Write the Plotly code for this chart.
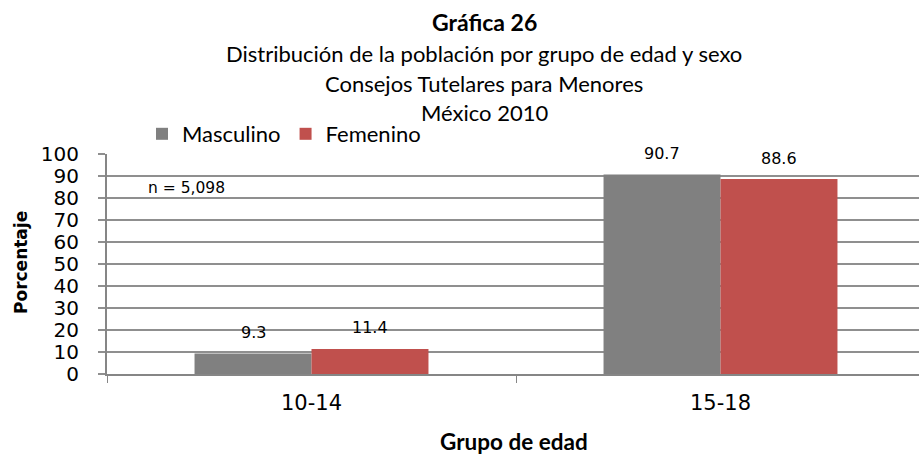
import plotly.graph_objects as go

categories = ["10-14", "15-18"]
masculino = [9.3, 90.7]
femenino = [11.4, 88.6]
y_ticks = [0, 10, 20, 30, 40, 50, 60, 70, 80, 90, 100]

lato = "Lato, Open Sans, sans-serif"
dejavu = "DejaVu Sans, sans-serif"

L, R, T, B = 107, 0, 154, 81
W, H = 925, 455
PW, PH = W - L - R, H - T - B


def px_x(x):
    return (x - L) / PW


def px_y(y):
    return (H - B - y) / PH


fig = go.Figure()
fig.add_trace(go.Bar(name="Masculino", x=categories, y=masculino,
                     marker=dict(color="#808080", line=dict(width=0))))
fig.add_trace(go.Bar(name="Femenino", x=categories, y=femenino,
                     marker=dict(color="#C0504D", line=dict(width=0))))

annotations = []
for i, c in enumerate(categories):
    for v, off in ((masculino[i], -0.143), (femenino[i], 0.143)):
        annotations.append(dict(x=i + off, y=v, xref="x", yref="y", text=f"{v:.1f}",
                                showarrow=False, yshift=21, yanchor="middle",
                                font=dict(family=dejavu, size=16, color="#000")))
annotations.append(dict(x=px_x(146), y=px_y(188), xref="paper", yref="paper", text="n = 5,098",
                        showarrow=False, xanchor="left", yanchor="middle",
                        font=dict(family=dejavu, size=15.5, color="#000")))
titles = [("<b>Gráfica 26</b>", 23, 22),
          ("Distribución de la población por grupo de edad y sexo", 22, 53),
          ("Consejos Tutelares para Menores", 22, 83),
          ("México 2010", 22, 112)]
for t, s, ypx in titles:
    annotations.append(dict(x=px_x(484), y=px_y(ypx), xref="paper", yref="paper",
                            text=t, showarrow=False, xanchor="center", yanchor="middle",
                            font=dict(family=lato, size=s, color="#000")))
# axis titles
annotations.append(dict(x=px_x(514), y=px_y(441), xref="paper", yref="paper",
                        text="<b>Grupo de edad</b>", showarrow=False,
                        xanchor="center", yanchor="middle",
                        font=dict(family=lato, size=22.5, color="#000")))
annotations.append(dict(x=px_x(21), y=px_y(263), xref="paper", yref="paper",
                        text="<b>Porcentaje</b>", showarrow=False, textangle=-90,
                        xanchor="center", yanchor="middle",
                        font=dict(family=dejavu, size=17, color="#000")))

fig.update_layout(
    width=W, height=H,
    margin=dict(l=L, r=R, t=T, b=B, autoexpand=False),
    paper_bgcolor="white", plot_bgcolor="white",
    barmode="group", bargap=0.428, bargroupgap=0,
    showlegend=True,
    legend=dict(orientation="h", x=px_x(142), y=px_y(134), xanchor="left", yanchor="middle",
                font=dict(family=lato, size=22, color="#000"),
                itemwidth=30, tracegroupgap=0, bgcolor="rgba(0,0,0,0)"),
    xaxis=dict(type="category", range=[-0.5, 1.5], showgrid=False, automargin=False,
               showline=True, linecolor="#868686", linewidth=2,
               ticks="outside", tickson="boundaries", ticklen=7, tickcolor="#868686",
               ticklabelstandoff=9,
               tickfont=dict(family=dejavu, size=21, color="#000")),
    yaxis=dict(range=[0, 100], tickvals=y_ticks, showgrid=True, gridcolor="#8f8f8f",
               gridwidth=1.5, showline=True, linecolor="#868686", linewidth=2,
               ticks="outside", ticklen=7, tickcolor="#8f8f8f", tickwidth=1.5,
               ticklabelstandoff=15, automargin=False, zeroline=False,
               tickfont=dict(family=dejavu, size=20, color="#000")),
    annotations=annotations,
)
fig.write_html("out.html", config={"displayModeBar": False},
               post_script="document.body.style.margin='0';document.body.style.overflow='hidden';")
